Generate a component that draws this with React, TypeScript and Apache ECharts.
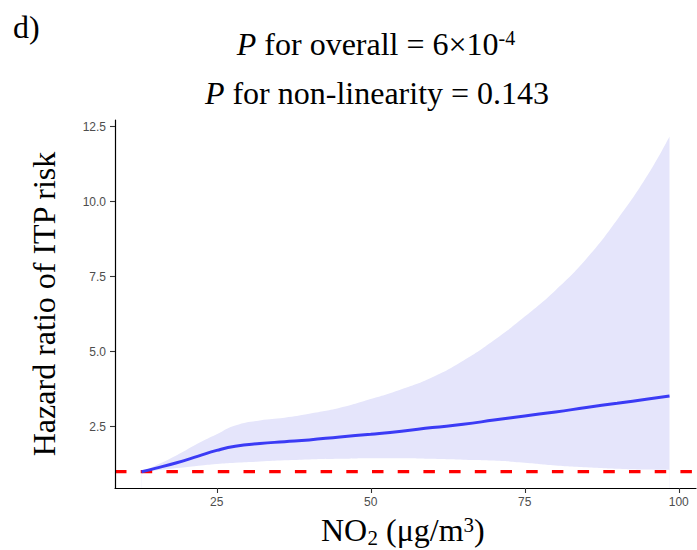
import React, { useEffect, useRef } from "react";
import * as echarts from "echarts";

// NO2 grid (µg/m3)
const no2 = [12.8, 15, 18.5, 22, 25, 28, 32, 36, 40, 45, 50, 55, 60, 65, 70, 75, 80, 85, 90, 95, 98.5];
// Hazard ratio estimate
const hr = [1.0, 1.11, 1.3, 1.52, 1.71, 1.85, 1.94, 2.0, 2.06, 2.16, 2.25, 2.35, 2.47, 2.58, 2.72, 2.86, 2.99, 3.14, 3.28, 3.42, 3.52];
// 95% CI upper
const upper = [1.0, 1.2, 1.55, 1.95, 2.25, 2.54, 2.71, 2.8, 2.93, 3.13, 3.42, 3.75, 4.15, 4.7, 5.38, 6.17, 7.05, 8.1, 9.4, 10.9, 12.17];
// 95% CI lower
const lower = [1.0, 1.04, 1.12, 1.2, 1.26, 1.3, 1.34, 1.38, 1.41, 1.43, 1.45, 1.45, 1.43, 1.4, 1.37, 1.3, 1.21, 1.15, 1.1, 1.07, 1.06];

const xTicks = [25, 50, 75, 100];
const yTicks = [2.5, 5.0, 7.5, 10.0, 12.5];
const xRange = [8.48, 102.8];
const yRange = [0.457, 12.72];
const refHR = 1;

const title1 = "{i|P}{n| for overall = 6×10}{s|-4}";
const title2 = "{i|P}{n| for non-linearity = 0.143}";
const panelTag = "d)";
const yName = "Hazard ratio of ITP risk";
const xNameMain = "NO";
const xNameSub = "2";
const xNameRest = "{n| (μg/m}{s|3}{n|)}";

const SERIF = "'Liberation Serif', 'Times New Roman', serif";
const SANS = "'Liberation Sans', Arial, sans-serif";

export default function App() {
  const ref = useRef<HTMLDivElement>(null);
  useEffect(() => {
    if (!ref.current) return;
    const chart = echarts.init(ref.current, undefined, { renderer: "svg" });
    const richTitle = {
      i: { fontFamily: SERIF, fontSize: 32, fontStyle: "italic", color: "#000", lineHeight: 32 },
      n: { fontFamily: SERIF, fontSize: 32, color: "#000", lineHeight: 32 },
      s: { fontFamily: SERIF, fontSize: 20, color: "#000", lineHeight: 20, verticalAlign: "top" },
    };
    const richX = {
      n: { fontFamily: SERIF, fontSize: 32, color: "#000", lineHeight: 32 },
      s: { fontFamily: SERIF, fontSize: 21, color: "#000", lineHeight: 21, verticalAlign: "top" },
    };
    chart.setOption({
      animation: false,
      backgroundColor: "#fff",
      grid: { left: 115, right: 1, top: 120, bottom: 62, outerBoundsMode: "none", containLabel: false },
      xAxis: {
        type: "value",
        min: xRange[0],
        max: xRange[1],
        z: 10,
        splitLine: { show: false },
        axisLine: { show: true, lineStyle: { color: "#000", width: 1.2 } },
        axisTick: { show: true, customValues: xTicks, length: 5, lineStyle: { color: "#333", width: 1.1 } },
        axisLabel: {
          customValues: xTicks,
          margin: 8,
          color: "#4d4d4d",
          fontFamily: SANS,
          fontSize: 12,
          formatter: (v: number) => String(v),
        },
      },
      yAxis: {
        type: "value",
        min: yRange[0],
        max: yRange[1],
        z: 10,
        splitLine: { show: false },
        axisLine: { show: true, lineStyle: { color: "#000", width: 1.2 } },
        axisTick: { show: true, customValues: yTicks, length: 5, lineStyle: { color: "#333", width: 1.1 } },
        axisLabel: {
          customValues: yTicks,
          margin: 9,
          color: "#4d4d4d",
          fontFamily: SANS,
          fontSize: 12,
          formatter: (v: number) => v.toFixed(1),
        },
        name: yName,
        nameLocation: "middle",
        nameGap: 55,
        nameRotate: 90,
        nameTextStyle: { fontFamily: SERIF, fontSize: 32, color: "#000" },
      },
      graphic: [
        {
          type: "text",
          left: 13,
          top: 11,
          style: { text: panelTag, fontFamily: SERIF, fontSize: 32, fill: "#000" },
        },
        {
          type: "text",
          x: 376,
          y: 44,
          style: { text: title1, rich: richTitle, align: "center", verticalAlign: "middle" },
        },
        {
          type: "text",
          x: 377,
          y: 93,
          style: { text: title2, rich: richTitle, align: "center", verticalAlign: "middle" },
        },
        {
          type: "text",
          x: 321,
          y: 530,
          style: { text: xNameMain, fontFamily: SERIF, fontSize: 32, fill: "#000", align: "left", verticalAlign: "middle" },
        },
        {
          type: "text",
          x: 367.5,
          y: 538,
          style: { text: xNameSub, fontFamily: SERIF, fontSize: 21, fill: "#000", align: "left", verticalAlign: "middle" },
        },
        {
          type: "text",
          x: 378,
          y: 530,
          style: { text: xNameRest, rich: richX, align: "left", verticalAlign: "middle" },
        },
      ],
      series: [
        {
          name: "upper",
          type: "line",
          data: no2.map((x, i) => [x, upper[i]]),
          symbol: "none",
          smooth: 0.5,
          lineStyle: { width: 0, opacity: 0 },
          areaStyle: { color: "#e5e5fb", opacity: 1, origin: "start" },
          silent: true,
          z: 1,
        },
        {
          name: "lower",
          type: "line",
          data: no2.map((x, i) => [x, lower[i]]),
          symbol: "none",
          smooth: 0.5,
          lineStyle: { width: 0, opacity: 0 },
          areaStyle: { color: "#ffffff", opacity: 1, origin: "start" },
          silent: true,
          z: 2,
        },
        {
          name: "ref",
          type: "line",
          data: [[xRange[0], refHR], [xRange[1], refHR]],
          symbol: "none",
          lineStyle: { color: "#ff0000", width: 3.2, type: [11.5, 14.2] },
          silent: true,
          z: 3,
        },
        {
          name: "HR",
          type: "line",
          data: no2.map((x, i) => [x, hr[i]]),
          symbol: "none",
          smooth: 0.5,
          lineStyle: { color: "#3b3bf5", width: 3 },
          silent: true,
          z: 4,
        },
      ],
    });
    return () => chart.dispose();
  }, []);
  return <div ref={ref} style={{ position: "fixed", left: 0, top: 0, width: 697, height: 550 }} />;
}
